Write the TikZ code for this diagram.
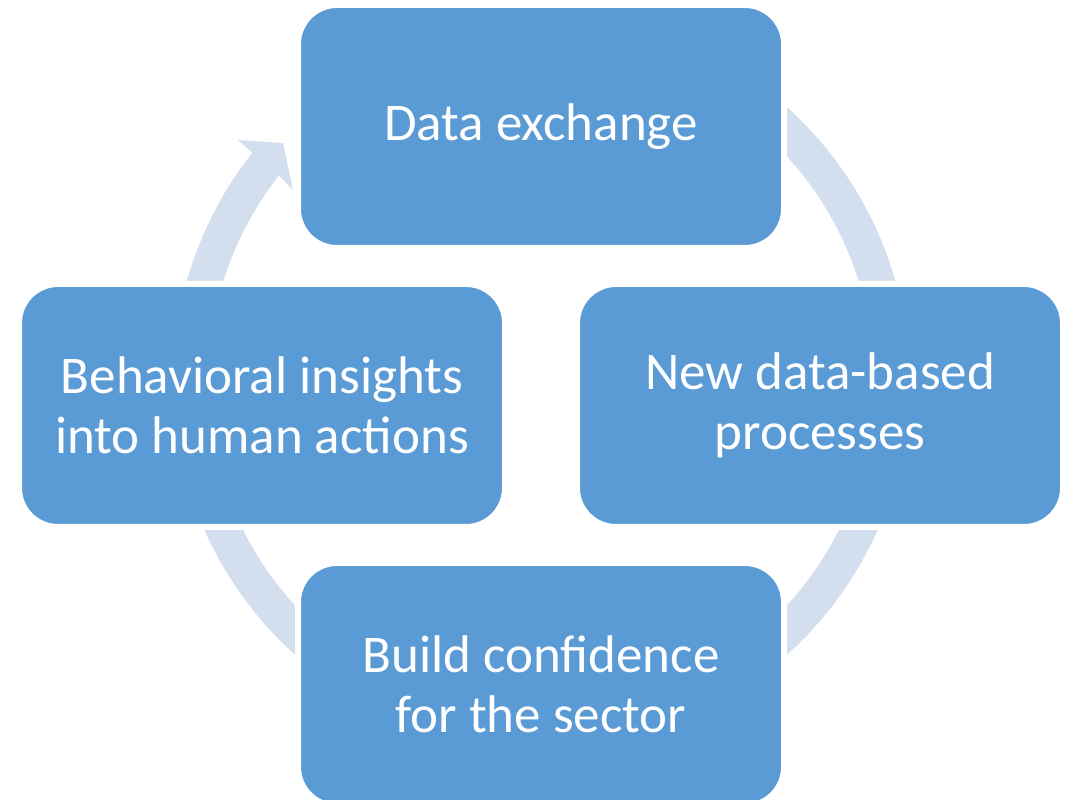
\documentclass[tikz,border=0pt]{standalone}
\usepackage{fontspec}
\setmainfont{Carlito}
\definecolor{boxblue}{HTML}{5B9BD5}
\definecolor{ringblue}{HTML}{D3DEEF}
\begin{document}
\begin{tikzpicture}[x=1pt,y=1pt,
  stage/.style={rectangle, rounded corners=39pt, fill=boxblue, draw=white,
    line width=6pt, minimum width=486pt, minimum height=243pt,
    text=white, align=center, inner sep=0pt,
    font=\fontsize{53}{60}\selectfont}]
\useasboundingbox (0,0) rectangle (1071,800);
\coordinate (c) at (541,419);
% circular arrow running clockwise behind the stages
\fill[ringblue]
  ([shift={(c)}]90:368) arc[start angle=90, end angle=-218.3, radius=368]
  -- ([shift={(c)}]141.5:387)
  -- ([shift={(c)}]137.3:351)
  -- ([shift={(c)}]142.4:313)
  -- ([shift={(c)}]141.9:333)
  arc[start angle=-218.1, end angle=90, radius=333] -- cycle;
% the four stages
\node[stage] (exchange) at (541,673.5) {Data exchange};
\node[stage] (processes) at (820,394.5) {New data-based\\processes};
\node[stage] (confidence) at (541,115.5) {Build confidence\\for the sector};
\node[stage] (insights) at (262,394.5) {Behavioral insights\\into human actions};
\end{tikzpicture}
\end{document}
